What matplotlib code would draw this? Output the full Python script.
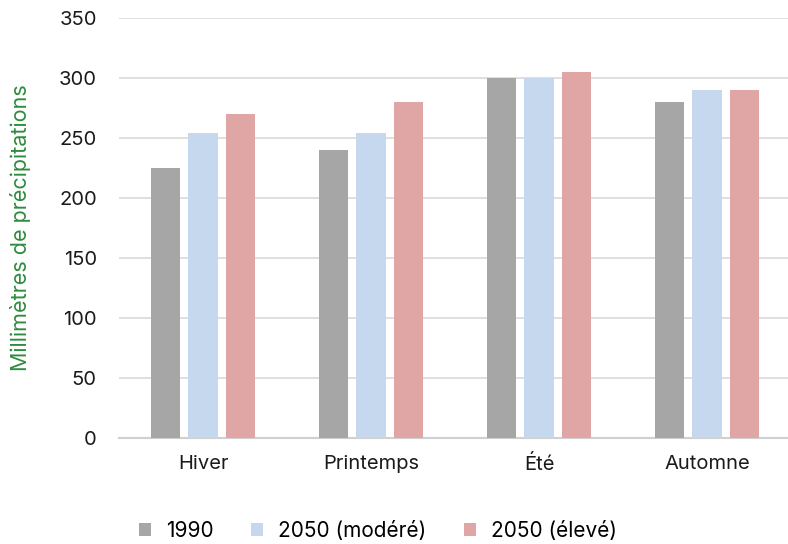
import numpy as np
import matplotlib.pyplot as plt

plt.rcParams['font.family'] = ['Inter', 'DejaVu Sans']

saisons = ['Hiver', 'Printemps', 'Été', 'Automne']
series = ['1990', '2050 (modéré)', '2050 (élevé)']
v1990 = [225, 240, 300, 280]
v2050_modere = [254, 254, 300, 290]
v2050_eleve = [270, 280, 305, 290]
couleurs = ['#a6a6a6', '#c5d8ee', '#e0a6a6']

fig = plt.figure(figsize=(7.88, 5.44), dpi=100)
ax = fig.add_axes([119 / 788, 106 / 544, 672 / 788, 420 / 544])

x = np.arange(len(saisons))
w = 0.175
off = 0.223
for i, (vals, c, nom) in enumerate(zip([v1990, v2050_modere, v2050_eleve], couleurs, series)):
    ax.bar(x + (i - 1) * off, vals, width=w, color=c, label=nom, zorder=3)

ax.set_xlim(-0.5, len(saisons) - 0.5)
ax.set_ylim(0, 350)
ax.set_yticks(range(0, 351, 50))
ax.set_xticks(x)
ax.set_xticklabels(saisons)
ax.grid(axis='y', color='#d9d9d9', linewidth=1.2, zorder=0)
for s in ['top', 'right', 'left']:
    ax.spines[s].set_visible(False)
ax.spines['bottom'].set_color('#d0d0d0')
ax.spines['bottom'].set_linewidth(1.5)
ax.tick_params(axis='both', length=0, labelsize=14.5, colors='#1a1a1a')
ax.tick_params(axis='x', pad=12)
ax.tick_params(axis='y', pad=16)
ax.set_ylabel('Millimètres de précipitations', color='#2e8b3e', fontsize=15.5, labelpad=20)

ax.legend(loc='upper center', bbox_to_anchor=(0.385, -0.152), ncol=3, frameon=False,
          fontsize=15, handlelength=0.6, handleheight=0.6, columnspacing=1.8, handletextpad=0.7)

fig.savefig('out.png', dpi=100)
